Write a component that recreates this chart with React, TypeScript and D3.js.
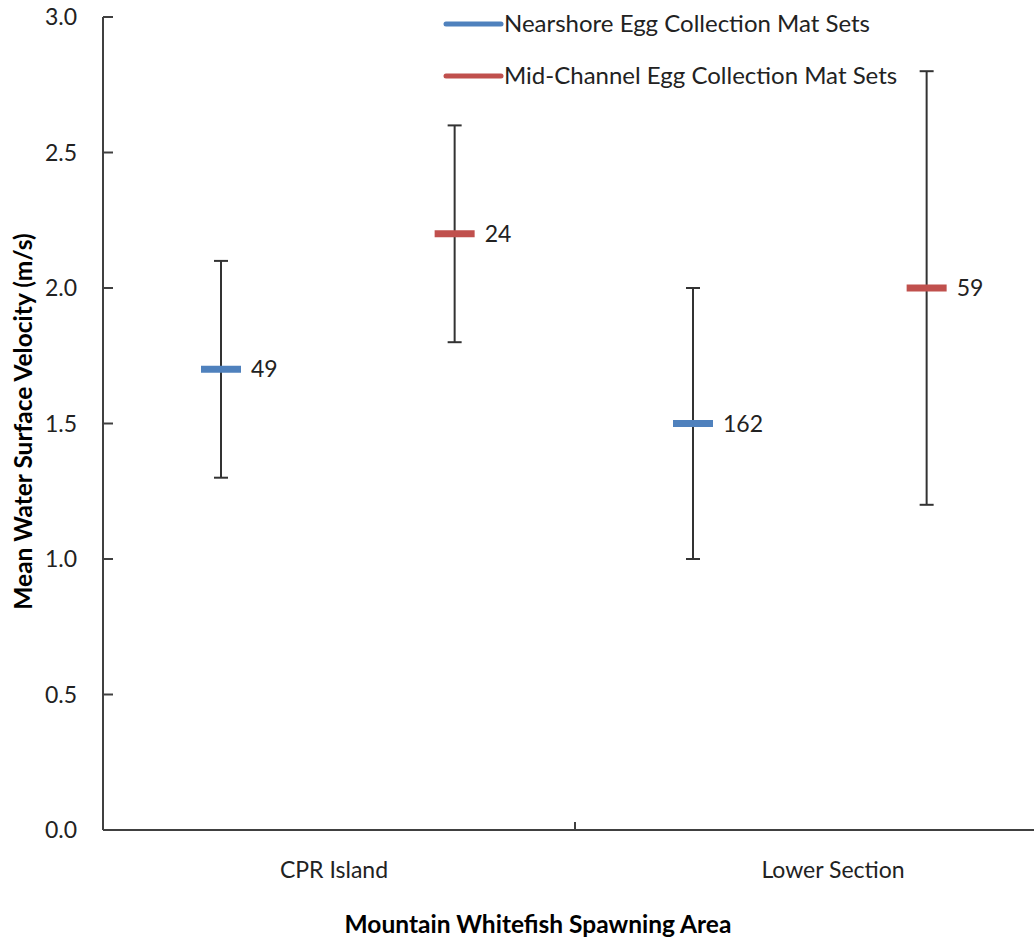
import React from "react";
import * as d3 from "d3";

// Spawning areas and the two mat-set groups
const areas = ["CPR Island", "Lower Section"];
const seriesNames = ["Nearshore Egg Collection Mat Sets", "Mid-Channel Egg Collection Mat Sets"];
const seriesColors = ["#4F81BD", "#C0504D"];

// Mean velocity (m/s), range low/high and sample count, by area, per series
const nearshoreMean = [1.7, 1.5];
const nearshoreLow = [1.3, 1.0];
const nearshoreHigh = [2.1, 2.0];
const nearshoreN = [49, 162];

const midChannelMean = [2.2, 2.0];
const midChannelLow = [1.8, 1.2];
const midChannelHigh = [2.6, 2.8];
const midChannelN = [24, 59];

const yTicks = [0, 0.5, 1.0, 1.5, 2.0, 2.5, 3.0];

const W = 1034;
const H = 937;
const FONT = "Lato, 'Open Sans', sans-serif";

export default function App() {
  const x = d3.scaleBand<string>().domain(areas).range([103, 1047]);
  const y = d3.scaleLinear().domain([0, 3]).range([830, 17]);

  const series = [
    { mean: nearshoreMean, low: nearshoreLow, high: nearshoreHigh, n: nearshoreN, offset: 0.25 },
    { mean: midChannelMean, low: midChannelLow, high: midChannelHigh, n: midChannelN, offset: 0.745 },
  ];

  const axisColor = "#404040";
  const bw = x.bandwidth();
  const labelShift = [-5, 22];
  const fs = 23;

  return (
    <svg
      width={W}
      height={H}
      style={{ position: "absolute", left: 0, top: 0, display: "block", background: "#fff" }}
      fontFamily={FONT}
    >
      {/* y axis */}
      <line x1={103} x2={103} y1={y(3)} y2={y(0)} stroke={axisColor} strokeWidth={2} />
      {yTicks.map((t) => (
        <g key={t}>
          <line x1={103} x2={113} y1={y(t)} y2={y(t)} stroke={axisColor} strokeWidth={2} />
          <text x={77} y={y(t)} dy="0.35em" textAnchor="end" fontSize={fs} fill="#222">
            {t.toFixed(1)}
          </text>
        </g>
      ))}

      {/* x axis */}
      <line x1={103} x2={W} y1={y(0)} y2={y(0)} stroke={axisColor} strokeWidth={2} />
      {areas.slice(1).map((a) => (
        <line key={a} x1={x(a)!} x2={x(a)!} y1={y(0)} y2={y(0) - 8} stroke={axisColor} strokeWidth={2} />
      ))}
      {areas.map((a, i) => (
        <text
          key={a}
          x={x(a)! + bw / 2 + labelShift[i]}
          y={870}
          dy="0.35em"
          textAnchor="middle"
          fontSize={fs}
          fill="#222"
        >
          {a}
        </text>
      ))}

      {/* axis titles */}
      <text x={538} y={924} dy="0.35em" textAnchor="middle" fontSize={24.5} fontWeight="bold" fill="#000">
        Mountain Whitefish Spawning Area
      </text>
      <text
        transform={`translate(23,${y(1.5) - 2}) rotate(-90)`}
        dy="0.35em"
        textAnchor="middle"
        fontSize={24.5}
        fontWeight="bold"
        fill="#000"
      >
        Mean Water Surface Velocity (m/s)
      </text>

      {/* error bars with mean markers */}
      {series.map((s, si) =>
        areas.map((a, i) => {
          const cx = x(a)! + bw * s.offset;
          return (
            <g key={`${si}-${i}`}>
              <line x1={cx} x2={cx} y1={y(s.low[i])} y2={y(s.high[i])} stroke="#333" strokeWidth={2} />
              <line x1={cx - 7} x2={cx + 7} y1={y(s.low[i])} y2={y(s.low[i])} stroke="#333" strokeWidth={2} />
              <line x1={cx - 7} x2={cx + 7} y1={y(s.high[i])} y2={y(s.high[i])} stroke="#333" strokeWidth={2} />
              <line
                x1={cx - 20}
                x2={cx + 20}
                y1={y(s.mean[i])}
                y2={y(s.mean[i])}
                stroke={seriesColors[si]}
                strokeWidth={7}
              />
              <text x={cx + 30} y={y(s.mean[i])} dy="0.35em" fontSize={fs} fill="#222">
                {s.n[i]}
              </text>
            </g>
          );
        })
      )}

      {/* legend */}
      {seriesNames.map((name, i) => (
        <g key={name} transform={`translate(446,${24 + i * 52})`}>
          <line x1={0} x2={55} y1={0} y2={0} stroke={seriesColors[i]} strokeWidth={5} strokeLinecap="round" />
          <text x={58} y={0} dy="0.35em" fontSize={24} fill="#222">
            {name}
          </text>
        </g>
      ))}
    </svg>
  );
}
